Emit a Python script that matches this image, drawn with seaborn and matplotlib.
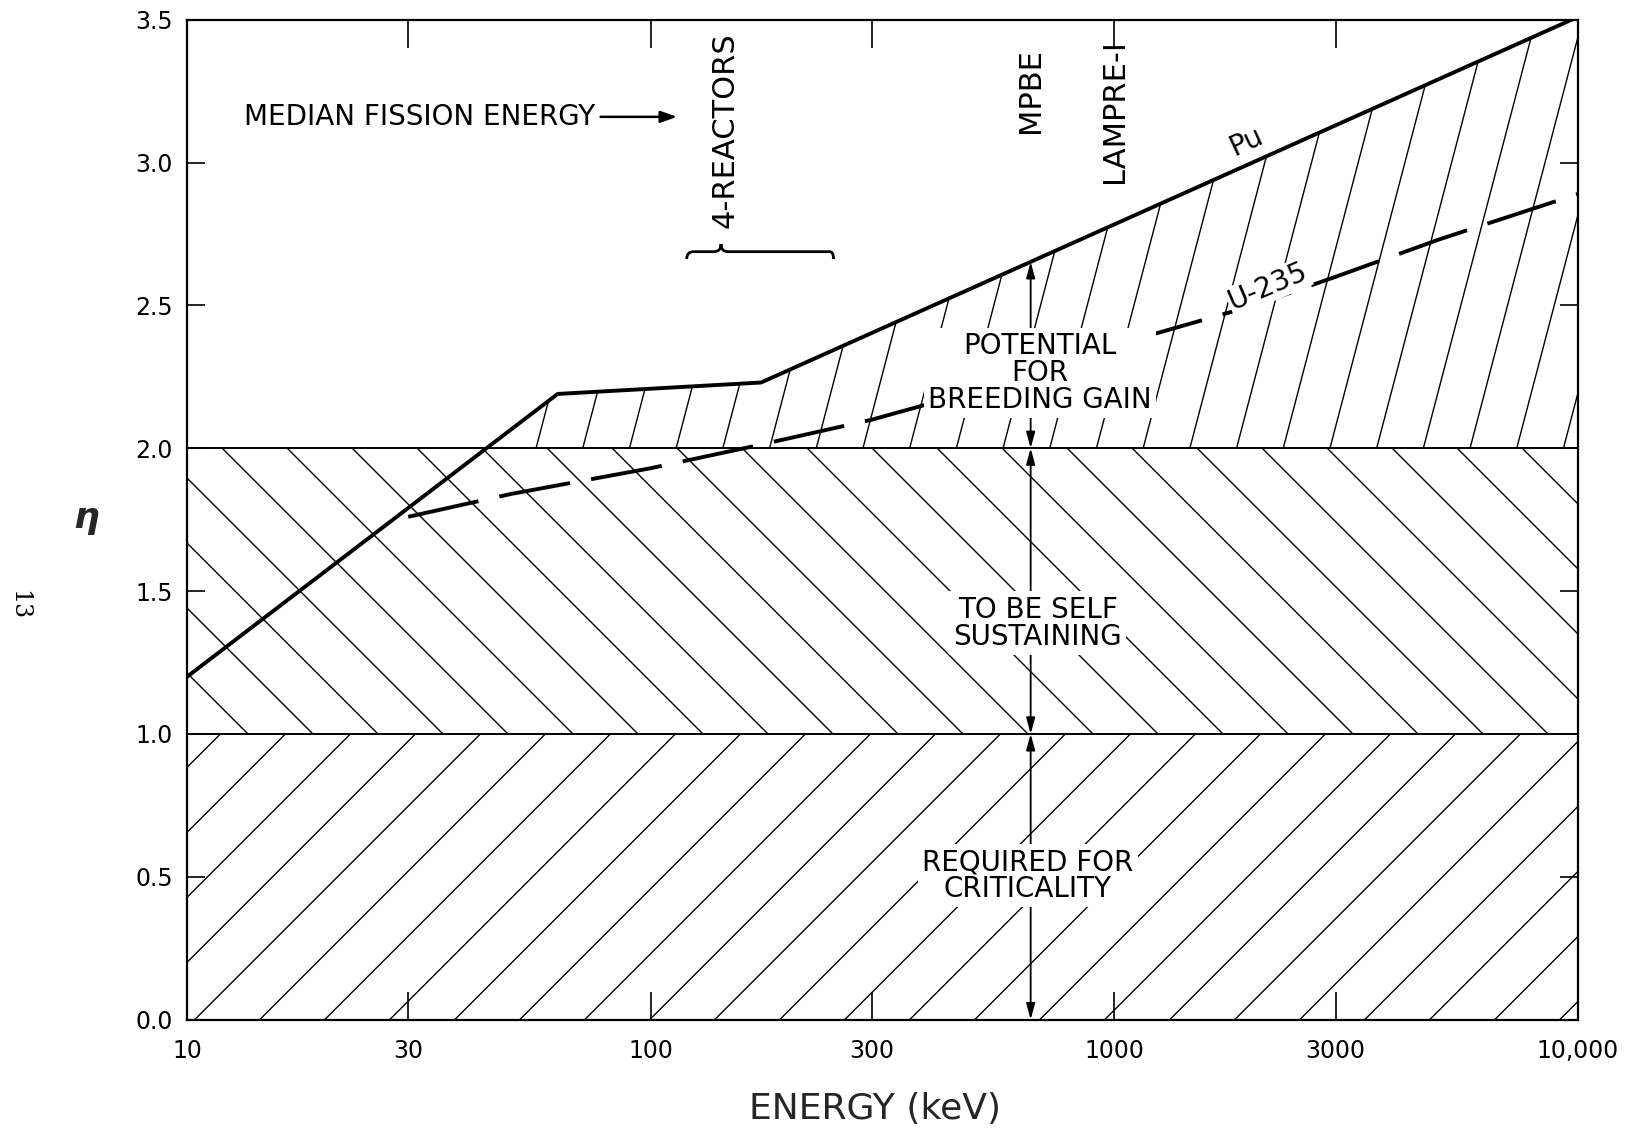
import numpy as np
import matplotlib
matplotlib.use("Agg")
import matplotlib.pyplot as plt
import seaborn as sns
import pandas as pd
from matplotlib.collections import LineCollection
from matplotlib.path import Path
from matplotlib.patches import PathPatch
from matplotlib.ticker import NullLocator

# ---------------- data ----------------
pu_energy = [10, 63, 173, 10000]
pu_eta = [1.20, 2.19, 2.23, 3.51]

u235_energy = [30, 50, 100, 170, 300, 500, 1000, 2000, 3000, 5000, 10000]
u235_eta = [1.76, 1.84, 1.93, 2.01, 2.10, 2.20, 2.36, 2.50, 2.60, 2.73, 2.89]

x_ticks = [10, 30, 100, 300, 1000, 3000, 10000]
x_tick_labels = ["10", "30", "100", "300", "1000", "3000", "10,000"]
y_ticks = [0.0, 0.5, 1.0, 1.5, 2.0, 2.5, 3.0, 3.5]
y_tick_labels = ["0.0", "0.5", "1.0", "1.5", "2.0", "2.5", "3.0", "3.5"]

criticality_eta = 1.0
self_sustaining_eta = 2.0
arrow_energy = 660            # vertical double arrows (MPBE)
median_label_energy = 13.3
median_arrow_from = 78
median_arrow_to = 114
median_eta = 3.16
reactor_brace = (119.6, 141.8, 248)   # left, tip, right (keV)
reactor_brace_eta = 2.688
mpbe_energy = 660
lampre_energy = 1000

# ---------------- style ----------------
sns.set_theme(style="white")
plt.rcParams["font.family"] = ["DejaVu Sans"]
plt.rcParams["axes.edgecolor"] = "black"
plt.rcParams["text.color"] = "black"

W, H = 1628, 1129
fig = plt.figure(figsize=(W / 100, H / 100), dpi=100)
fig.patch.set_facecolor("white")
left, right, top, bottom = 187, 1578, 19.7, 1019.6
ax = fig.add_axes([left / W, 1 - bottom / H, (right - left) / W, (bottom - top) / H])
ax.set_facecolor("white")
ax.set_xscale("log")
ax.set_xlim(10, 10000)
ax.set_ylim(0, 3.5)

# ---------------- regions ----------------
band_low = ax.fill_between([10, 10000], 0, criticality_eta, color="none", lw=0)
band_mid = ax.fill_between([10, 10000], criticality_eta, self_sustaining_eta, color="none", lw=0)
logpu = np.log10(pu_energy)
x_cross = 10 ** np.interp(self_sustaining_eta, pu_eta, logpu)
xs_top = [x_cross] + [e for e, p in zip(pu_energy, pu_eta) if p > self_sustaining_eta]
ys_top = [self_sustaining_eta] + [p for p in pu_eta if p > self_sustaining_eta]
band_top = ax.fill_between(xs_top, self_sustaining_eta, ys_top, color="none", lw=0)


def hatch(coll, angle, spacing, anchor, lw=1.0):
    bb = ax.bbox
    axx, axy = ax.transData.transform(anchor)
    t = 1.0 / np.tan(np.radians(angle))
    y0, y1 = bb.y0 - 5, bb.y1 + 5
    xa = axx + (y0 - axy) * t
    span = (y1 - y0) * abs(t)
    kmin = int(np.floor((bb.x0 - span - xa) / spacing)) - 2
    kmax = int(np.ceil((bb.x1 + span - xa) / spacing)) + 2
    segs = []
    for k in range(kmin, kmax + 1):
        xb = xa + k * spacing
        segs.append([(xb, y0), (xb + (y1 - y0) * t, y1)])
    segs = np.array(segs)
    inv = ax.transAxes.inverted()
    segs_ax = inv.transform(segs.reshape(-1, 2)).reshape(-1, 2, 2)
    lc = LineCollection(segs_ax, transform=ax.transAxes, colors="black",
                        linewidths=lw, zorder=2)
    ax.add_collection(lc, autolim=False)
    lc.set_clip_path(coll.get_paths()[0], ax.transData)
    lc.set_clip_box(ax.bbox)


hatch(band_low, 45, 65, (500, 0.0))
hatch(band_mid, 135, 65, (651, 1.0))
hatch(band_top, 75.3, 46.7, (56.6, 2.0))

ax.axhline(criticality_eta, color="black", lw=1.4, zorder=3)
ax.axhline(self_sustaining_eta, color="black", lw=1.4, zorder=3)

# ---------------- curves ----------------
pu_df = pd.DataFrame({"energy": pu_energy, "eta": pu_eta})
u_df = pd.DataFrame({"energy": u235_energy, "eta": u235_eta})
sns.lineplot(data=pu_df, x="energy", y="eta", ax=ax, color="black", lw=2.8,
             zorder=4, sort=False)
sns.lineplot(data=u_df, x="energy", y="eta", ax=ax, color="black", lw=2.8,
             zorder=4, sort=False)
ax.lines[-1].set_dashes((18.5, 5.5))
ax.lines[-1].set_dash_capstyle("butt")

# ---------------- vertical arrows ----------------
pu_at_arrow = np.interp(np.log10(arrow_energy), logpu, pu_eta)
astyle = dict(arrowstyle="<|-|>,head_length=0.8,head_width=0.22", lw=1.3,
              color="black", mutation_scale=12, shrinkA=0, shrinkB=0)
for ya, yb in [(0.0, criticality_eta), (criticality_eta, self_sustaining_eta),
               (self_sustaining_eta, pu_at_arrow)]:
    ax.annotate("", xy=(arrow_energy, yb), xytext=(arrow_energy, ya),
                arrowprops=astyle, zorder=3)

# ---------------- text ----------------
fs = 20
vfs = 22
box = dict(boxstyle="square,pad=0.15", fc="white", ec="none")
ax.text(690, 2.263, "POTENTIAL\nFOR\nBREEDING GAIN", ha="center", va="center",
        fontsize=fs, linespacing=0.95, bbox=box, zorder=6)
ax.text(684, 1.388, "TO BE SELF\nSUSTAINING", ha="center", va="center",
        fontsize=fs, linespacing=0.95, bbox=box, zorder=6)
ax.text(651, 0.504, "REQUIRED FOR\nCRITICALITY", ha="center", va="center",
        fontsize=fs, linespacing=0.95, bbox=box, zorder=6)

ax.text(1928, 3.073, "Pu", ha="center", va="center", fontsize=fs,
        rotation=25, rotation_mode="anchor", zorder=6)
ax.text(2148, 2.565, "U-235", ha="center", va="center", fontsize=fs,
        rotation=23, rotation_mode="anchor",
        bbox=dict(boxstyle="square,pad=0.05", fc="white", ec="none"), zorder=6)

ax.text(median_label_energy, median_eta, "MEDIAN FISSION ENERGY", ha="left",
        va="center", fontsize=fs, zorder=6)
ax.annotate("", xy=(median_arrow_to, median_eta), xytext=(median_arrow_from, median_eta),
            arrowprops=dict(arrowstyle="-|>,head_length=0.7,head_width=0.25", lw=1.8,
                            color="black", mutation_scale=14, shrinkA=0, shrinkB=0))

ax.text(reactor_brace[1] * 1.02, 2.77, "4-REACTORS", rotation=90, ha="center",
        va="bottom", fontsize=vfs)
ax.text(mpbe_energy, 3.103, "MPBE", rotation=90, ha="center", va="bottom",
        fontsize=vfs)
ax.text(lampre_energy, 2.928, "LAMPRE-I", rotation=90, ha="center", va="bottom",
        fontsize=vfs)

# brace under 4-REACTORS
bl, bt, br = reactor_brace
yb = reactor_brace_eta
verts = [(bl, yb - 0.026), (bl, yb), (bl * 1.035, yb),
         (bt / 1.035, yb),
         (bt, yb), (bt, yb + 0.027),
         (bt, yb), (bt * 1.035, yb),
         (br / 1.02, yb),
         (br, yb), (br, yb - 0.026)]
codes = [Path.MOVETO, Path.CURVE3, Path.CURVE3, Path.LINETO,
         Path.CURVE3, Path.CURVE3, Path.CURVE3, Path.CURVE3,
         Path.LINETO, Path.CURVE3, Path.CURVE3]
ax.add_patch(PathPatch(Path(verts, codes), fc="none", ec="black", lw=2.0,
                       transform=ax.transData, zorder=4))

# ---------------- axes ----------------
ax.set_xticks(x_ticks)
ax.set_xticklabels(x_tick_labels)
ax.xaxis.set_minor_locator(NullLocator())
ax.set_yticks(y_ticks)
ax.set_yticklabels(y_tick_labels)
ax.tick_params(axis="x", which="major", direction="in", top=True, bottom=True,
               length=20, width=1.2, pad=14, labelsize=17, colors="black")
ax.tick_params(axis="y", which="major", direction="in", left=True, right=True,
               length=13, width=1.2, pad=10, labelsize=17, colors="black")
for s in ax.spines.values():
    s.set_linewidth(1.6)
    s.set_color("black")
    s.set_zorder(7)

ax.set_xlabel("ENERGY (keV)", fontsize=26)
ax.xaxis.set_label_coords((875 - left) / (right - left), -(1109 - bottom) / (bottom - top))
ax.xaxis.label.set_va("center")
ax.set_ylabel("η", fontsize=26, rotation=0, style="italic", weight="bold")
ax.yaxis.set_label_coords((86 - left) / (right - left), (bottom - 518) / (bottom - top))
ax.yaxis.label.set_va("center")
ax.yaxis.label.set_ha("center")

fig.text(19 / W, 1 - 605 / H, "13", rotation=-90, ha="center", va="center",
         fontsize=17, family="DejaVu Serif")

fig.savefig("out.png", dpi=100, facecolor="white")
